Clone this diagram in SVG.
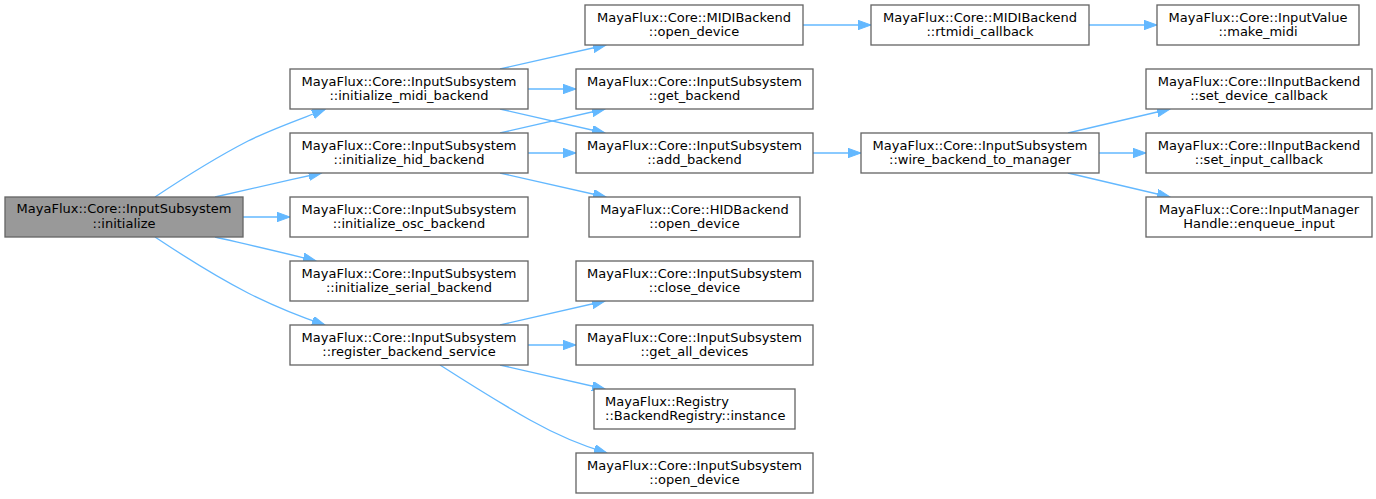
<svg xmlns="http://www.w3.org/2000/svg" width="1376" height="499" viewBox="0 0 1376 499">
<defs>
<style>
.n rect{fill:#ffffff;stroke:#666666;stroke-width:1.33}
.n.hl rect{fill:#999999}
.n text{font-family:"DejaVu Sans","Liberation Sans",sans-serif;font-size:13px;fill:#000000;text-anchor:middle}
.n text.l{text-anchor:start}
.e path{fill:none;stroke:#63b8ff;stroke-width:1.33;marker-end:url(#ah)}
</style>
<marker id="ah" markerUnits="userSpaceOnUse" markerWidth="14" markerHeight="10" refX="13" refY="4.7" orient="auto">
<path d="M0,0 L13,4.7 L0,9.4 Z" fill="#63b8ff" stroke="#63b8ff" stroke-width="1"/>
</marker>
</defs>
<rect width="1376" height="499" fill="#ffffff"/>
<g id="edges" class="e">
<path d="M155,197 C182,179 215,158 248,141 C272,129 298,120 325,109.5"/>
<path d="M215,197 C245,190 285,181 321.5,173"/>
<path d="M243,217 L290,217"/>
<path d="M215,237 C245,244 285,253 316,261"/>
<path d="M155,237 C182,255 215,276 248,293 C272,305 298,316 325,325"/>
<path d="M500,69 L606,45"/>
<path d="M528,89 L576,89"/>
<path d="M500,109 L605,133"/>
<path d="M500,133 L605,109"/>
<path d="M528,153 L576,153"/>
<path d="M500,173 L606,197"/>
<path d="M500,325 L605,301"/>
<path d="M528,345 L576,345"/>
<path d="M500,365 L605,389"/>
<path d="M440,365 C465,381 500,403 530,420 C555,434 580,445 607,453"/>
<path d="M803,25 L871,25"/>
<path d="M813,153 L861,153"/>
<path d="M1089,25 L1157,25"/>
<path d="M1068,133 L1170,109"/>
<path d="M1099,153 L1146,153"/>
<path d="M1068,173 L1170,197"/>
</g>
<g id="n0" class="n hl"><rect x="5" y="197" width="238" height="40"/><text x="124" y="213.3">MayaFlux::Core::InputSubsystem</text><text x="124" y="227.5">::initialize</text></g>
<g id="n1" class="n"><rect x="290" y="69" width="238" height="40"/><text x="409" y="85.5">MayaFlux::Core::InputSubsystem</text><text x="409" y="99.5">::initialize_midi_backend</text></g>
<g id="n2" class="n"><rect x="290" y="133" width="238" height="40"/><text x="409" y="149.5">MayaFlux::Core::InputSubsystem</text><text x="409" y="163.5">::initialize_hid_backend</text></g>
<g id="n3" class="n"><rect x="290" y="197" width="238" height="40"/><text x="409" y="213.5">MayaFlux::Core::InputSubsystem</text><text x="409" y="227.5">::initialize_osc_backend</text></g>
<g id="n4" class="n"><rect x="290" y="261" width="238" height="40"/><text x="409" y="277.5">MayaFlux::Core::InputSubsystem</text><text x="409" y="291.5">::initialize_serial_backend</text></g>
<g id="n5" class="n"><rect x="290" y="325" width="238" height="40"/><text x="409" y="341.5">MayaFlux::Core::InputSubsystem</text><text x="409" y="355.5">::register_backend_service</text></g>
<g id="n6" class="n"><rect x="585" y="5" width="218" height="40"/><text x="694" y="21.5">MayaFlux::Core::MIDIBackend</text><text x="694" y="35.5">::open_device</text></g>
<g id="n7" class="n"><rect x="576" y="69" width="237" height="40"/><text x="694.5" y="85.5">MayaFlux::Core::InputSubsystem</text><text x="694.5" y="99.5">::get_backend</text></g>
<g id="n8" class="n"><rect x="576" y="133" width="237" height="40"/><text x="694.5" y="149.5">MayaFlux::Core::InputSubsystem</text><text x="694.5" y="163.5">::add_backend</text></g>
<g id="n9" class="n"><rect x="589" y="197" width="211" height="40"/><text x="694.5" y="213.5">MayaFlux::Core::HIDBackend</text><text x="694.5" y="227.5">::open_device</text></g>
<g id="n10" class="n"><rect x="576" y="261" width="237" height="40"/><text x="694.5" y="277.5">MayaFlux::Core::InputSubsystem</text><text x="694.5" y="291.5">::close_device</text></g>
<g id="n11" class="n"><rect x="576" y="325" width="237" height="40"/><text x="694.5" y="341.5">MayaFlux::Core::InputSubsystem</text><text x="694.5" y="355.5">::get_all_devices</text></g>
<g id="n12" class="n"><rect x="594" y="389" width="201" height="40"/><text class="l" x="605" y="405.5">MayaFlux::Registry</text><text class="l" x="605" y="419.5">::BackendRegistry::instance</text></g>
<g id="n13" class="n"><rect x="576" y="453" width="237" height="40"/><text x="694.5" y="469.5">MayaFlux::Core::InputSubsystem</text><text x="694.5" y="483.5">::open_device</text></g>
<g id="n14" class="n"><rect x="871" y="5" width="218" height="40"/><text x="980" y="21.5">MayaFlux::Core::MIDIBackend</text><text x="980" y="35.5">::rtmidi_callback</text></g>
<g id="n15" class="n"><rect x="861" y="133" width="238" height="40"/><text x="980" y="149.5">MayaFlux::Core::InputSubsystem</text><text x="980" y="163.5">::wire_backend_to_manager</text></g>
<g id="n16" class="n"><rect x="1157" y="5" width="202" height="40"/><text x="1258" y="21.5">MayaFlux::Core::InputValue</text><text x="1258" y="35.5">::make_midi</text></g>
<g id="n17" class="n"><rect x="1146" y="69" width="226" height="40"/><text x="1259" y="85.5">MayaFlux::Core::IInputBackend</text><text x="1259" y="99.5">::set_device_callback</text></g>
<g id="n18" class="n"><rect x="1146" y="133" width="226" height="40"/><text x="1259" y="149.5">MayaFlux::Core::IInputBackend</text><text x="1259" y="163.5">::set_input_callback</text></g>
<g id="n19" class="n"><rect x="1146" y="197" width="226" height="40"/><text x="1259" y="213.5">MayaFlux::Core::InputManager</text><text x="1259" y="227.5">Handle::enqueue_input</text></g>
</svg>
